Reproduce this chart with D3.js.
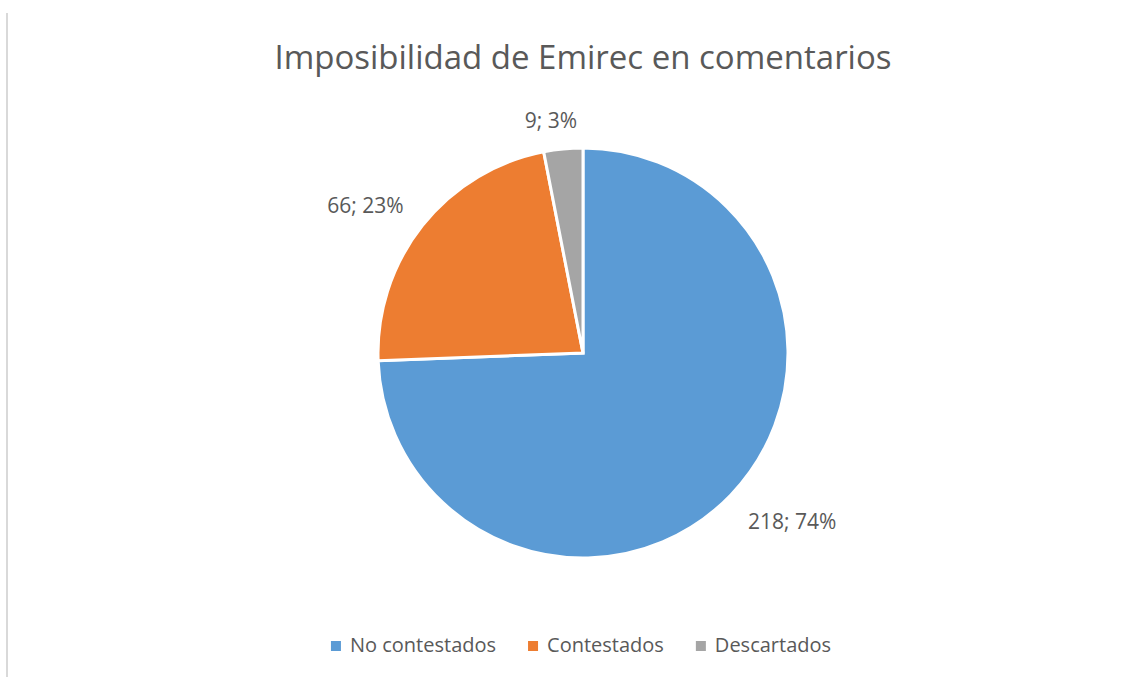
<!DOCTYPE html>
<html>
<head>
<meta charset="utf-8">
<script src="https://cdn.jsdelivr.net/npm/d3@7"></script>
<style>
  body { margin: 0; background: #fff; }
  svg { display: block; font-family: "Open Sans", sans-serif; }
</style>
</head>
<body>
<svg id="chart" width="1146" height="677"></svg>
<script>
// données du graphique
const categories = ["No contestados", "Contestados", "Descartados"];
const valeurs = [218, 66, 9];
const pourcentages = ["74%", "23%", "3%"];
const couleurs = ["#5B9BD5", "#ED7D31", "#A5A5A5"];
const titre = "Imposibilidad de Emirec en comentarios";

const w = 1146, h = 677;
const cx = 583, cy = 353, rayon = 205;
const gris = "#595959";

const svg = d3.select("#chart");

// bordure gauche du cadre
svg.append("line")
  .attr("x1", 7).attr("x2", 7)
  .attr("y1", 13).attr("y2", h)
  .style("stroke", "#d9d9d9")
  .style("stroke-width", 2);

// titre
svg.append("text")
  .attr("x", cx)
  .attr("y", 69)
  .attr("text-anchor", "middle")
  .style("font-size", "33px")
  .style("fill", gris)
  .text(titre);

const data = categories.map((c, i) => ({nom: c, valeur: valeurs[i], pct: pourcentages[i], couleur: couleurs[i]}));

const pie = d3.pie()
  .value(d => d.valeur)
  .sort(null);

const arc = d3.arc()
  .innerRadius(0)
  .outerRadius(rayon);

const arcs = pie(data);

const g = svg.append("g")
  .attr("transform", `translate(${cx},${cy})`);

g.selectAll("path")
  .data(arcs)
  .enter()
  .append("path")
  .attr("d", arc)
  .style("fill", d => d.data.couleur)
  .style("stroke", "#fff")
  .style("stroke-width", 3)
  .style("stroke-linejoin", "miter");

// étiquettes de données, à l'extérieur
const pad = 24;
const hautVisible = 15; // hauteur visible des chiffres
const clamp = v => Math.max(-1, Math.min(1, v));

const etiquettes = g.selectAll("text.etiquette")
  .data(arcs)
  .enter()
  .append("text")
  .attr("class", "etiquette")
  .attr("text-anchor", "middle")
  .attr("dominant-baseline", "central")
  .style("font-size", "21px")
  .style("fill", gris)
  .text(d => `${d.data.valeur}; ${d.data.pct}`);

etiquettes.each(function(d) {
  const bb = this.getBBox();
  const a = (d.startAngle + d.endAngle) / 2;
  const s = Math.sin(a), c = Math.cos(a);
  const px = (rayon + pad) * s;
  const py = -(rayon + pad) * c;
  const x = px + bb.width / 2 * clamp(s * 4);
  const y = py - hautVisible / 2 * clamp(c * 4) + 2;
  d3.select(this).attr("x", x).attr("y", y);
});

// légende
const legende = svg.append("g");
let xPos = 0;
const items = legende.selectAll("g.legend_entree")
  .data(data)
  .enter()
  .append("g")
  .attr("class", "legend_entree");

items.append("rect")
  .attr("width", 10)
  .attr("height", 10)
  .attr("y", -11)
  .style("fill", d => d.couleur);

items.append("text")
  .attr("x", 19)
  .style("font-size", "20px")
  .style("fill", gris)
  .text(d => d.nom);

items.each(function() {
  const tw = d3.select(this).select("text").node().getComputedTextLength();
  d3.select(this).attr("transform", `translate(${xPos},0)`);
  xPos += 19 + tw + 32;
});
const largeur = xPos - 32;
legende.attr("transform", `translate(${581 - largeur / 2},652)`);
</script>
</body>
</html>
